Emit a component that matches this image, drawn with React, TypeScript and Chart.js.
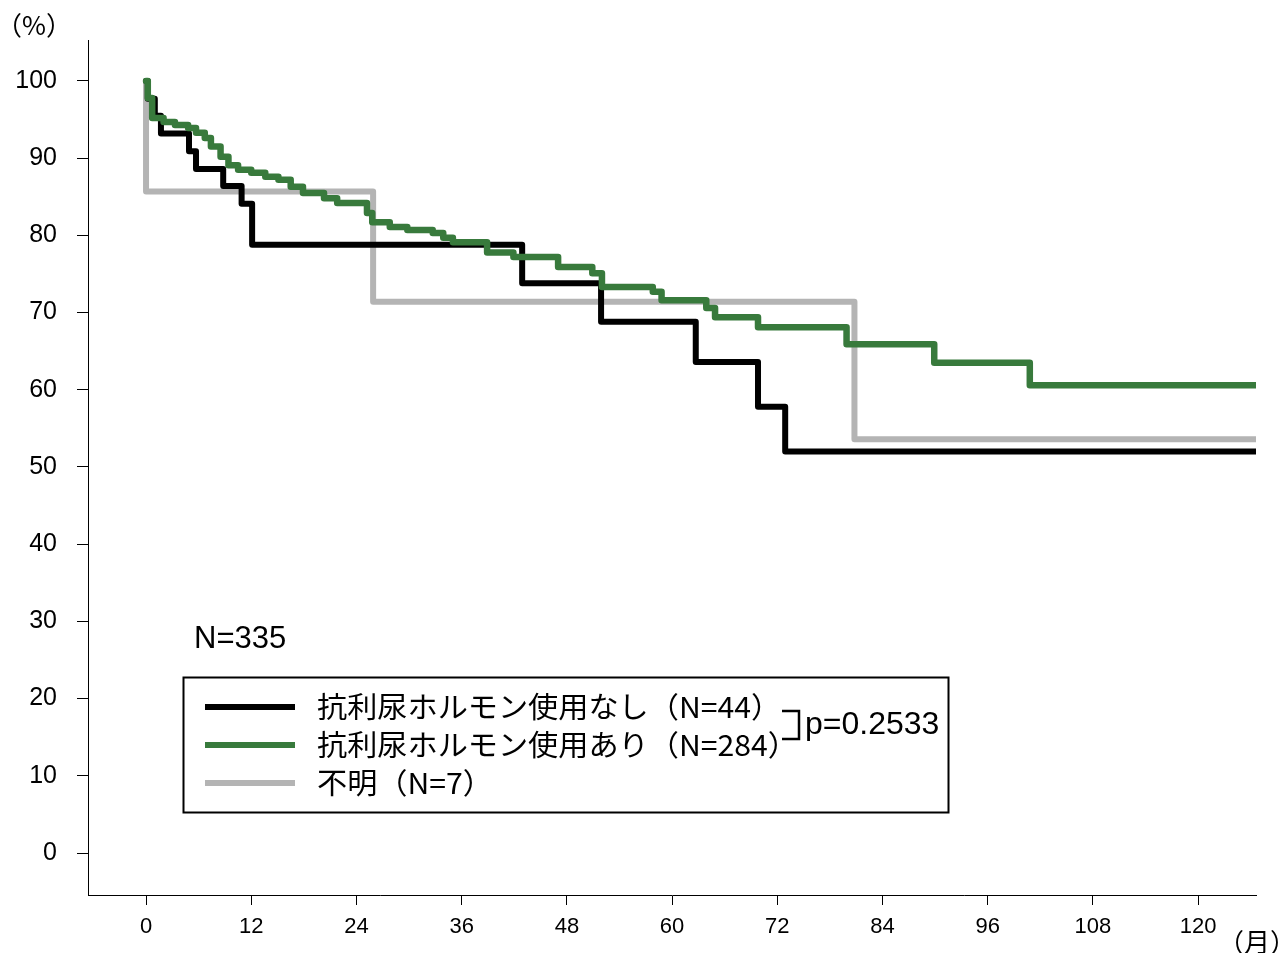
import React, { useEffect, useRef } from "react";
import { Chart, registerables } from "chart.js";

Chart.register(...registerables);

// ---- data ----
const xTickValues = [0, 12, 24, 36, 48, 60, 72, 84, 96, 108, 120];
const yTickValues = [0, 10, 20, 30, 40, 50, 60, 70, 80, 90, 100];
const xMin = -6.62;
const xMax = 126.6;
const yMin = -5.44;
const yMax = 105.31;

const seriesLabels = [
  "抗利尿ホルモン使用なし（N=44）",
  "抗利尿ホルモン使用あり（N=284）",
  "不明（N=7）",
];
const seriesColors = ["#000000", "#387a3c", "#b4b4b4"];

const noUseTimes = [0, 0.2, 1.0, 1.7, 4.9, 5.7, 8.8, 10.9, 12.1, 42.9, 51.9, 62.7, 69.8, 72.9, 126.6];
const noUseSurv = [100, 97.7, 95.5, 93.2, 90.9, 88.6, 86.4, 84.1, 78.8, 73.8, 68.8, 63.6, 57.8, 52.0, 52.0];

const useTimes = [
  0, 0.2, 0.7, 2.0, 3.3, 4.8, 5.7, 6.7, 7.4, 8.5, 9.4, 10.5, 12.0, 13.6, 15.1, 16.5,
  17.9, 20.3, 21.8, 25.2, 25.8, 27.8, 29.8, 32.7, 33.9, 35.0, 38.9, 41.9, 47.0, 50.9,
  52.0, 57.8, 58.8, 63.9, 64.9, 69.8, 79.9, 89.9, 100.8, 126.6,
];
const useSurv = [
  100, 97.8, 95.2, 94.7, 94.3, 93.9, 93.3, 92.6, 91.5, 90.2, 89.1, 88.5, 88.1, 87.6, 87.2, 86.3,
  85.5, 84.8, 84.2, 82.9, 81.7, 81.1, 80.7, 80.3, 79.7, 79.1, 77.8, 77.2, 75.9, 75.1,
  73.3, 72.7, 71.6, 70.6, 69.4, 68.1, 65.9, 63.5, 60.6, 60.6,
];

const unknownTimes = [0, 0, 25.9, 80.8, 126.6];
const unknownSurv = [100, 85.7, 71.4, 53.6, 53.6];

const yUnitLabel = "（%）";
const xUnitLabel = "（月）";
const totalLabel = "N=335";
const pValueLabel = "p=0.2533";

const toPoints = (t: number[], s: number[]) => t.map((x, i) => ({ x, y: s[i] }));

const CJK = '"Noto Sans CJK JP", "Noto Sans", sans-serif';
const LAT = 'Arial, "Liberation Sans", sans-serif';

const annotationPlugin = {
  id: "kmAnnotations",
  afterDraw(chart: any) {
    const ctx: CanvasRenderingContext2D = chart.ctx;
    const area = chart.chartArea;
    ctx.save();
    ctx.fillStyle = "#000";
    ctx.textBaseline = "middle";

    // unit labels
    ctx.font = `26px ${CJK}`;
    ctx.textAlign = "center";
    ctx.fillText(yUnitLabel, area.left - 54, area.top - 15);
    ctx.fillText(xUnitLabel, area.right + 1, area.bottom + 47);

    // N=335
    ctx.textAlign = "left";
    ctx.font = `31px ${LAT}`;
    ctx.fillText(totalLabel, area.left + 106, 639);

    // legend box
    const bx = 183, by = 677, bw = 765, bh = 135;
    ctx.strokeStyle = "#000";
    ctx.lineWidth = 2;
    ctx.strokeRect(bx + 0.5, by + 0.5, bw, bh);

    const ds = chart.data.datasets;
    ds.forEach((d: any, i: number) => {
      const y = 707 + i * 38;
      ctx.strokeStyle = d.borderColor;
      ctx.lineWidth = 6;
      ctx.lineCap = "butt";
      ctx.beginPath();
      ctx.moveTo(205, y);
      ctx.lineTo(295, y);
      ctx.stroke();
      ctx.fillStyle = "#000";
      ctx.font = `29px ${CJK}`;
      ctx.textAlign = "left";
      ctx.save();
      ctx.translate(317, y);
      ctx.scale(1.04, 1);
      ctx.fillText(d.label, 0, 0);
      ctx.restore();
    });

    // bracket + p value
    ctx.strokeStyle = "#000";
    ctx.lineWidth = 2.5;
    ctx.lineCap = "butt";
    ctx.beginPath();
    ctx.moveTo(782, 711);
    ctx.lineTo(799, 711);
    ctx.lineTo(799, 739);
    ctx.lineTo(782, 739);
    ctx.stroke();
    ctx.font = `32px ${LAT}`;
    ctx.fillText(pValueLabel, 805, 725);
    ctx.restore();
  },
};

export default function App() {
  const canvasRef = useRef<HTMLCanvasElement | null>(null);

  useEffect(() => {
    if (!canvasRef.current) return;
    const common = {
      stepped: "before" as const,
      pointRadius: 0,
      fill: false,
      borderCapStyle: "round" as const,
      borderJoinStyle: "round" as const,
    };
    const chart = new Chart(canvasRef.current, {
      type: "line",
      data: {
        datasets: [
          {
            ...common,
            label: seriesLabels[0],
            data: toPoints(noUseTimes, noUseSurv),
            borderColor: seriesColors[0],
            borderWidth: 6,
            order: 1,
          },
          {
            ...common,
            label: seriesLabels[1],
            data: toPoints(useTimes, useSurv),
            borderColor: seriesColors[1],
            borderWidth: 6.5,
            order: 0,
          },
          {
            ...common,
            label: seriesLabels[2],
            data: toPoints(unknownTimes, unknownSurv),
            borderColor: seriesColors[2],
            borderWidth: 6,
            order: 2,
          },
        ],
      },
      options: {
        animation: false,
        responsive: true,
        maintainAspectRatio: false,
        layout: { padding: { left: 0, top: 40, right: 26, bottom: 0 } },
        plugins: { legend: { display: false }, tooltip: { enabled: false } },
        scales: {
          x: {
            type: "linear",
            min: xMin,
            max: xMax,
            afterBuildTicks: (axis: any) => {
              axis.ticks = xTickValues.map((v) => ({ value: v }));
            },
            afterFit: (axis: any) => {
              axis.height = 58;
            },
            grid: {
              drawOnChartArea: false,
              drawTicks: true,
              tickLength: 10,
              color: "#000",
              lineWidth: 1,
            },
            border: { display: true, color: "#000", width: 1 },
            ticks: {
              color: "#000",
              font: { family: LAT, size: 22 },
              padding: 9,
              maxRotation: 0,
              autoSkip: false,
            },
          },
          y: {
            type: "linear",
            min: yMin,
            max: yMax,
            afterBuildTicks: (axis: any) => {
              axis.ticks = yTickValues.map((v) => ({ value: v }));
            },
            afterFit: (axis: any) => {
              axis.width = 88;
            },
            grid: {
              drawOnChartArea: false,
              drawTicks: true,
              tickLength: 11,
              color: "#000",
              lineWidth: 1,
            },
            border: { display: true, color: "#000", width: 1 },
            ticks: {
              color: "#000",
              font: { family: LAT, size: 25 },
              padding: 20,
              autoSkip: false,
            },
          },
        },
      },
      plugins: [annotationPlugin],
    });
    return () => chart.destroy();
  }, []);

  return (
    <div style={{ position: "absolute", left: 0, top: 0, width: 1282, height: 953, background: "#fff" }}>
      <canvas ref={canvasRef} />
    </div>
  );
}
